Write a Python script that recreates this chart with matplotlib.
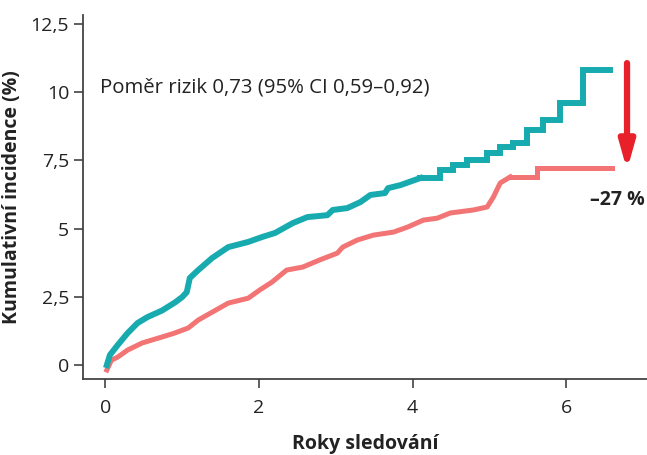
import matplotlib.pyplot as plt

# teal curve, smooth-looking early part
teal_t = [0.02, 0.06, 0.16, 0.29, 0.42, 0.55, 0.74, 0.91, 1.00, 1.06, 1.10, 1.21,
          1.39, 1.60, 1.86, 2.04, 2.21, 2.44, 2.63, 2.89, 2.96, 3.15, 3.32, 3.45,
          3.64, 3.68, 3.84, 4.10]
teal_y = [0.0, 0.37, 0.73, 1.17, 1.54, 1.76, 2.00, 2.30, 2.49, 2.67, 3.19, 3.48,
          3.92, 4.32, 4.51, 4.69, 4.84, 5.20, 5.42, 5.49, 5.68, 5.75, 5.97, 6.23,
          6.30, 6.48, 6.59, 6.85]
# teal curve, visible steps at the end
teal_step_t = [4.10, 4.36, 4.53, 4.71, 4.97, 5.14, 5.31, 5.49, 5.70, 5.92, 6.22, 6.57]
teal_step_y = [6.85, 7.14, 7.33, 7.51, 7.77, 7.99, 8.13, 8.61, 8.97, 9.60, 10.81, 10.81]

# salmon curve
red_t = [0.02, 0.08, 0.16, 0.29, 0.48, 0.74, 0.90, 1.08, 1.21, 1.60, 1.86, 2.01,
         2.17, 2.36, 2.57, 2.79, 3.02, 3.09, 3.28, 3.49, 3.75, 3.93, 4.14, 4.32,
         4.49, 4.79, 4.97, 5.05, 5.14, 5.27]
red_y = [-0.18, 0.18, 0.29, 0.55, 0.81, 1.03, 1.17, 1.36, 1.65, 2.27, 2.45, 2.75,
         3.04, 3.48, 3.59, 3.85, 4.10, 4.32, 4.58, 4.76, 4.87, 5.05, 5.31, 5.38,
         5.57, 5.68, 5.79, 6.15, 6.67, 6.89]
red_step_t = [5.27, 5.62, 6.60]
red_step_y = [6.89, 7.22, 7.22]

yticks = [0, 2.5, 5, 7.5, 10, 12.5]
ytick_labels = ["0", "2,5", "5", "7,5", "10", "12,5"]
xticks = [0, 2, 4, 6]

teal = "#17abb0"
salmon = "#f27474"

plt.rcParams["font.family"] = ["Open Sans", "DejaVu Sans"]

fig = plt.figure(figsize=(6.47, 4.55), dpi=100)
ax = fig.add_axes([0.1283, 0.167, 0.8717, 0.80])

ax.plot(red_t, red_y, color=salmon, lw=3.6, solid_joinstyle="round", zorder=2)
ax.plot(red_step_t, red_step_y, drawstyle="steps-post", color=salmon, lw=3.6,
        solid_joinstyle="miter", zorder=2)
ax.plot(teal_t, teal_y, color=teal, lw=4.3, solid_joinstyle="round", zorder=3)
ax.plot(teal_step_t, teal_step_y, drawstyle="steps-post", color=teal, lw=4.3,
        solid_joinstyle="miter", zorder=3)

ax.set_xlim(-0.29, 7.05)
ax.set_ylim(-0.51, 12.82)
ax.set_xticks(xticks)
ax.set_xticklabels([str(v) for v in xticks])
ax.set_yticks(yticks)
ax.set_yticklabels(ytick_labels)
ax.tick_params(length=6.5, width=1.1, color="#333333", labelsize=14,
               labelcolor="#222222")
ax.tick_params(axis="y", pad=3.5)
ax.tick_params(axis="x", pad=8)

for s in ["top", "right"]:
    ax.spines[s].set_visible(False)
for s in ["left", "bottom"]:
    ax.spines[s].set_color("#444444")
    ax.spines[s].set_linewidth(1.3)

ax.set_xlabel("Roky sledování", fontsize=14, fontweight="bold", color="#222222",
              labelpad=12)
ax.set_ylabel("Kumulativní incidence (%)", fontsize=14, fontweight="bold",
              color="#222222", labelpad=6)

ax.text(-0.07, 10.15, "Poměr rizik 0,73 (95% CI 0,59–0,92)", fontsize=14.7,
        color="#222222", va="center", ha="left")

ax.annotate("", xy=(6.79, 7.14), xytext=(6.79, 11.06),
            arrowprops=dict(arrowstyle="-|>,head_width=0.45,head_length=1.6",
                            color="#e8202a", lw=4.5, shrinkA=0, shrinkB=0),
            annotation_clip=False)
ax.text(6.66, 6.04, "–27 %", fontsize=14, fontweight="bold", color="#222222",
        ha="center", va="center", clip_on=False)

fig.savefig("out.png", dpi=100)
